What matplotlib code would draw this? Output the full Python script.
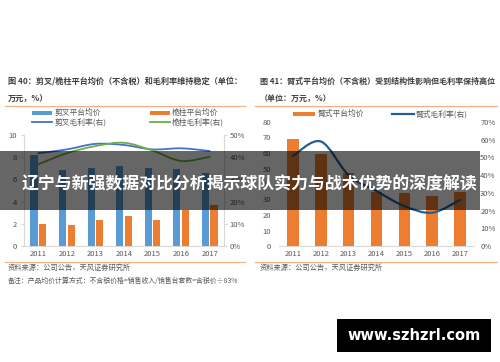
import matplotlib
matplotlib.use("Agg")
import matplotlib.pyplot as plt
from matplotlib.path import Path
from matplotlib.patches import PathPatch, Rectangle
from matplotlib.lines import Line2D
import numpy as np

plt.rcParams['font.family'] = ['Noto Sans CJK SC', 'DejaVu Sans']

years = ['2011', '2012', '2013', '2014', '2015', '2016', '2017']
scissor_price = [8.2, 6.85, 7.05, 7.2, 7.0, 6.9, 6.6]
mast_price = [1.95, 1.93, 2.35, 2.7, 2.35, 3.2, 3.65]
scissor_margin = [41.8, 43.5, 46.0, 45.5, 43.5, 44.0, 42.8]
mast_margin = [36.8, 41.8, 45.0, 46.5, 43.0, 38.3, 40.2]
boom_price = [68.8, 59.5, 47.0, 35.0, 34.0, 32.0, 35.0]
boom_margin = [50.8, 59.0, 40.0, 31.0, 22.5, 18.8, 26.0]

left_ticks = [0, 2, 4, 6, 8, 10]
left_rticks = [0, 10, 20, 30, 40, 50]
right_ticks = [0, 10, 20, 30, 40, 50, 60, 70, 80]
right_rticks = [0, 10, 20, 30, 40, 50, 60, 70]

W, H = 500, 362
fig = plt.figure(figsize=(W / 100, H / 100), dpi=100)
fig.patch.set_facecolor('white')

def fx(x):
    return x / W

def fy(y):
    return 1 - y / H

def axrect(x0, y0, x1, y1):
    return [fx(x0), fy(y1), (x1 - x0) / W, (y1 - y0) / H]

BLUE = '#5B9BD5'
ORANGE = '#ED7D31'
LBLUE = '#4472C4'
GREEN = '#70AD47'
DBLUE = '#255E91'
TXT = '#595959'
SEP = '#F4B183'

def smooth(ax, xs, ys, color, lw):
    P = np.column_stack([xs, ys]).astype(float)
    n = len(P)
    verts = [P[0]]
    codes = [Path.MOVETO]
    for i in range(n - 1):
        p0 = P[i - 1] if i > 0 else P[i]
        p1 = P[i]
        p2 = P[i + 1]
        p3 = P[i + 2] if i + 2 < n else P[i + 1]
        c1 = p1 + (p2 - p0) / 6.0
        c2 = p2 - (p3 - p1) / 6.0
        verts += [c1, c2, p2]
        codes += [Path.CURVE4] * 3
    ax.add_patch(PathPatch(Path(verts, codes), facecolor='none', edgecolor=color, lw=lw,
                           zorder=5, capstyle='round'))

def style(ax, twin):
    for s in ['top', 'right', 'left']:
        ax.spines[s].set_visible(False)
    for s in ['top', 'left', 'bottom', 'right']:
        twin.spines[s].set_visible(False)
    ax.spines['bottom'].set_color('#D9D9D9')
    ax.spines['bottom'].set_linewidth(0.8)
    ax.tick_params(axis='both', length=0, labelsize=5.5, labelcolor=TXT, pad=3)
    twin.tick_params(axis='y', length=0, labelsize=5.5, labelcolor=TXT, pad=3)

x = np.arange(len(years))

# ---------- left chart ----------
ax1 = fig.add_axes(axrect(24, 135, 224, 246))
ax1.bar(x - 0.15, scissor_price, width=0.25, color=BLUE, zorder=3)
ax1.bar(x + 0.15, mast_price, width=0.25, color=ORANGE, zorder=3)
ax1.set_xlim(-0.5, 6.5)
ax1.set_ylim(0, 10)
ax1.set_yticks(left_ticks)
ax1.set_xticks(x)
ax1.set_xticklabels(years)
t1 = ax1.twinx()
t1.set_ylim(0, 50)
t1.set_yticks(left_rticks)
t1.set_yticklabels([f'{v}%' for v in left_rticks])
smooth(t1, x, scissor_margin, LBLUE, 1.3)
smooth(t1, x, mast_margin, GREEN, 1.3)
style(ax1, t1)
for a in (ax1, t1):
    a.patch.set_visible(False)
ax1.spines['left'].set_visible(True)
ax1.spines['left'].set_color('#D9D9D9')
t1.spines['right'].set_visible(True)
t1.spines['right'].set_color('#D9D9D9')
ax1.tick_params(axis='y', length=2, color='#D9D9D9')
t1.tick_params(axis='y', length=2, color='#D9D9D9', pad=2)

# ---------- right chart ----------
ax2 = fig.add_axes(axrect(279, 122, 474, 246))
ax2.bar(x, boom_price, width=0.42, color=ORANGE, zorder=3)
ax2.set_xlim(-0.5, 6.5)
ax2.set_ylim(0, 80)
ax2.set_yticks(right_ticks)
ax2.set_xticks(x)
ax2.set_xticklabels(years)
t2 = ax2.twinx()
t2.set_ylim(0, 70)
t2.set_yticks(right_rticks)
t2.set_yticklabels([f'{v}%' for v in right_rticks])
smooth(t2, x, boom_margin, DBLUE, 1.6)
style(ax2, t2)
for a in (ax2, t2):
    a.patch.set_visible(False)
ax2.tick_params(axis='y', pad=5.5)
t2.tick_params(axis='y', pad=4.5)

# ---------- titles, separators, legends ----------
def ftext(xp, yp, s, **kw):
    fig.text(fx(xp), fy(yp), s, va='center', **kw)

title_kw = dict(color='#3F3F3F', fontweight='bold')
ftext(8, 81, '图 40：剪叉/桅柱平台均价（不含税）和毛利率维持稳定（单位：', fontsize=5.9, **title_kw)
ftext(8, 98, '万元，%）', fontsize=5.9, **title_kw)
ftext(260, 81, '图 41：臂式平台均价（不含税）受到结构性影响但毛利率保持高位', fontsize=5.75, **title_kw)
ftext(260, 98, '（单位：万元，%）', fontsize=5.75, **title_kw)

for (xa, xb) in [(5, 245), (255, 497)]:
    for yy in (106, 262):
        fig.add_artist(Line2D([fx(xa), fx(xb)], [fy(yy), fy(yy)], color=SEP, lw=0.9))

leg_kw = dict(fontsize=5.6, color=TXT)
def patch(xa, xb, yc, color, h=4):
    fig.add_artist(Rectangle((fx(xa), fy(yc + h / 2)), (xb - xa) / W, h / H,
                             facecolor=color, edgecolor='none', transform=fig.transFigure))
def lseg(xa, xb, yc, color, lw=1.3):
    fig.add_artist(Line2D([fx(xa), fx(xb)], [fy(yc), fy(yc)], color=color, lw=lw))

patch(32, 52, 113, BLUE)
ftext(55, 113, '剪叉平台均价', **leg_kw)
patch(150, 170, 113, ORANGE)
ftext(172, 113, '桅柱平台均价', **leg_kw)
lseg(32, 52, 122, LBLUE)
ftext(55, 122, '剪叉毛利率(右)', **leg_kw)
lseg(150, 170, 122, GREEN)
ftext(172, 122, '桅柱毛利率(右)', **leg_kw)

patch(293, 315, 114, ORANGE)
ftext(318, 114, '臂式平台均价', **leg_kw)
lseg(392, 414, 114, DBLUE, 1.6)
ftext(416, 114, '臂式毛利率(右)', **leg_kw)

ftext(8, 268, '资料来源：公司公告，天风证券研究所', fontsize=5.2, color=TXT)
ftext(8, 281, '备注：产品均价计算方式：不含税价格=销售收入/销售台套数=含税价÷83%',
      fontsize=4.95, color=TXT)
ftext(260, 268, '资料来源：公司公告，天风证券研究所', fontsize=5.2, color=TXT)

# ---------- overlay banner ----------
fig.add_artist(Rectangle((fx(0), fy(210)), 480 / W, 59 / H, facecolor='black', alpha=0.6,
                         edgecolor='none', transform=fig.transFigure, zorder=10))
fig.text(fx(249), fy(184), '辽宁与新强数据对比分析揭示球队实力与战术优势的深度解读',
         ha='center', va='center', fontsize=12.2, color='white', fontweight='bold', zorder=11)

# ---------- watermark ----------
fig.add_artist(Rectangle((fx(337), fy(352)), 154 / W, 33 / H, facecolor='black',
                         edgecolor='none', transform=fig.transFigure, zorder=10))
fig.text(fx(414), fy(336), 'www.szhzrl.com', ha='center', va='center', fontsize=10.5,
         color='white', fontweight='bold', family=['DejaVu Sans'], zorder=11)

fig.savefig('out.png', dpi=100, facecolor='white')
